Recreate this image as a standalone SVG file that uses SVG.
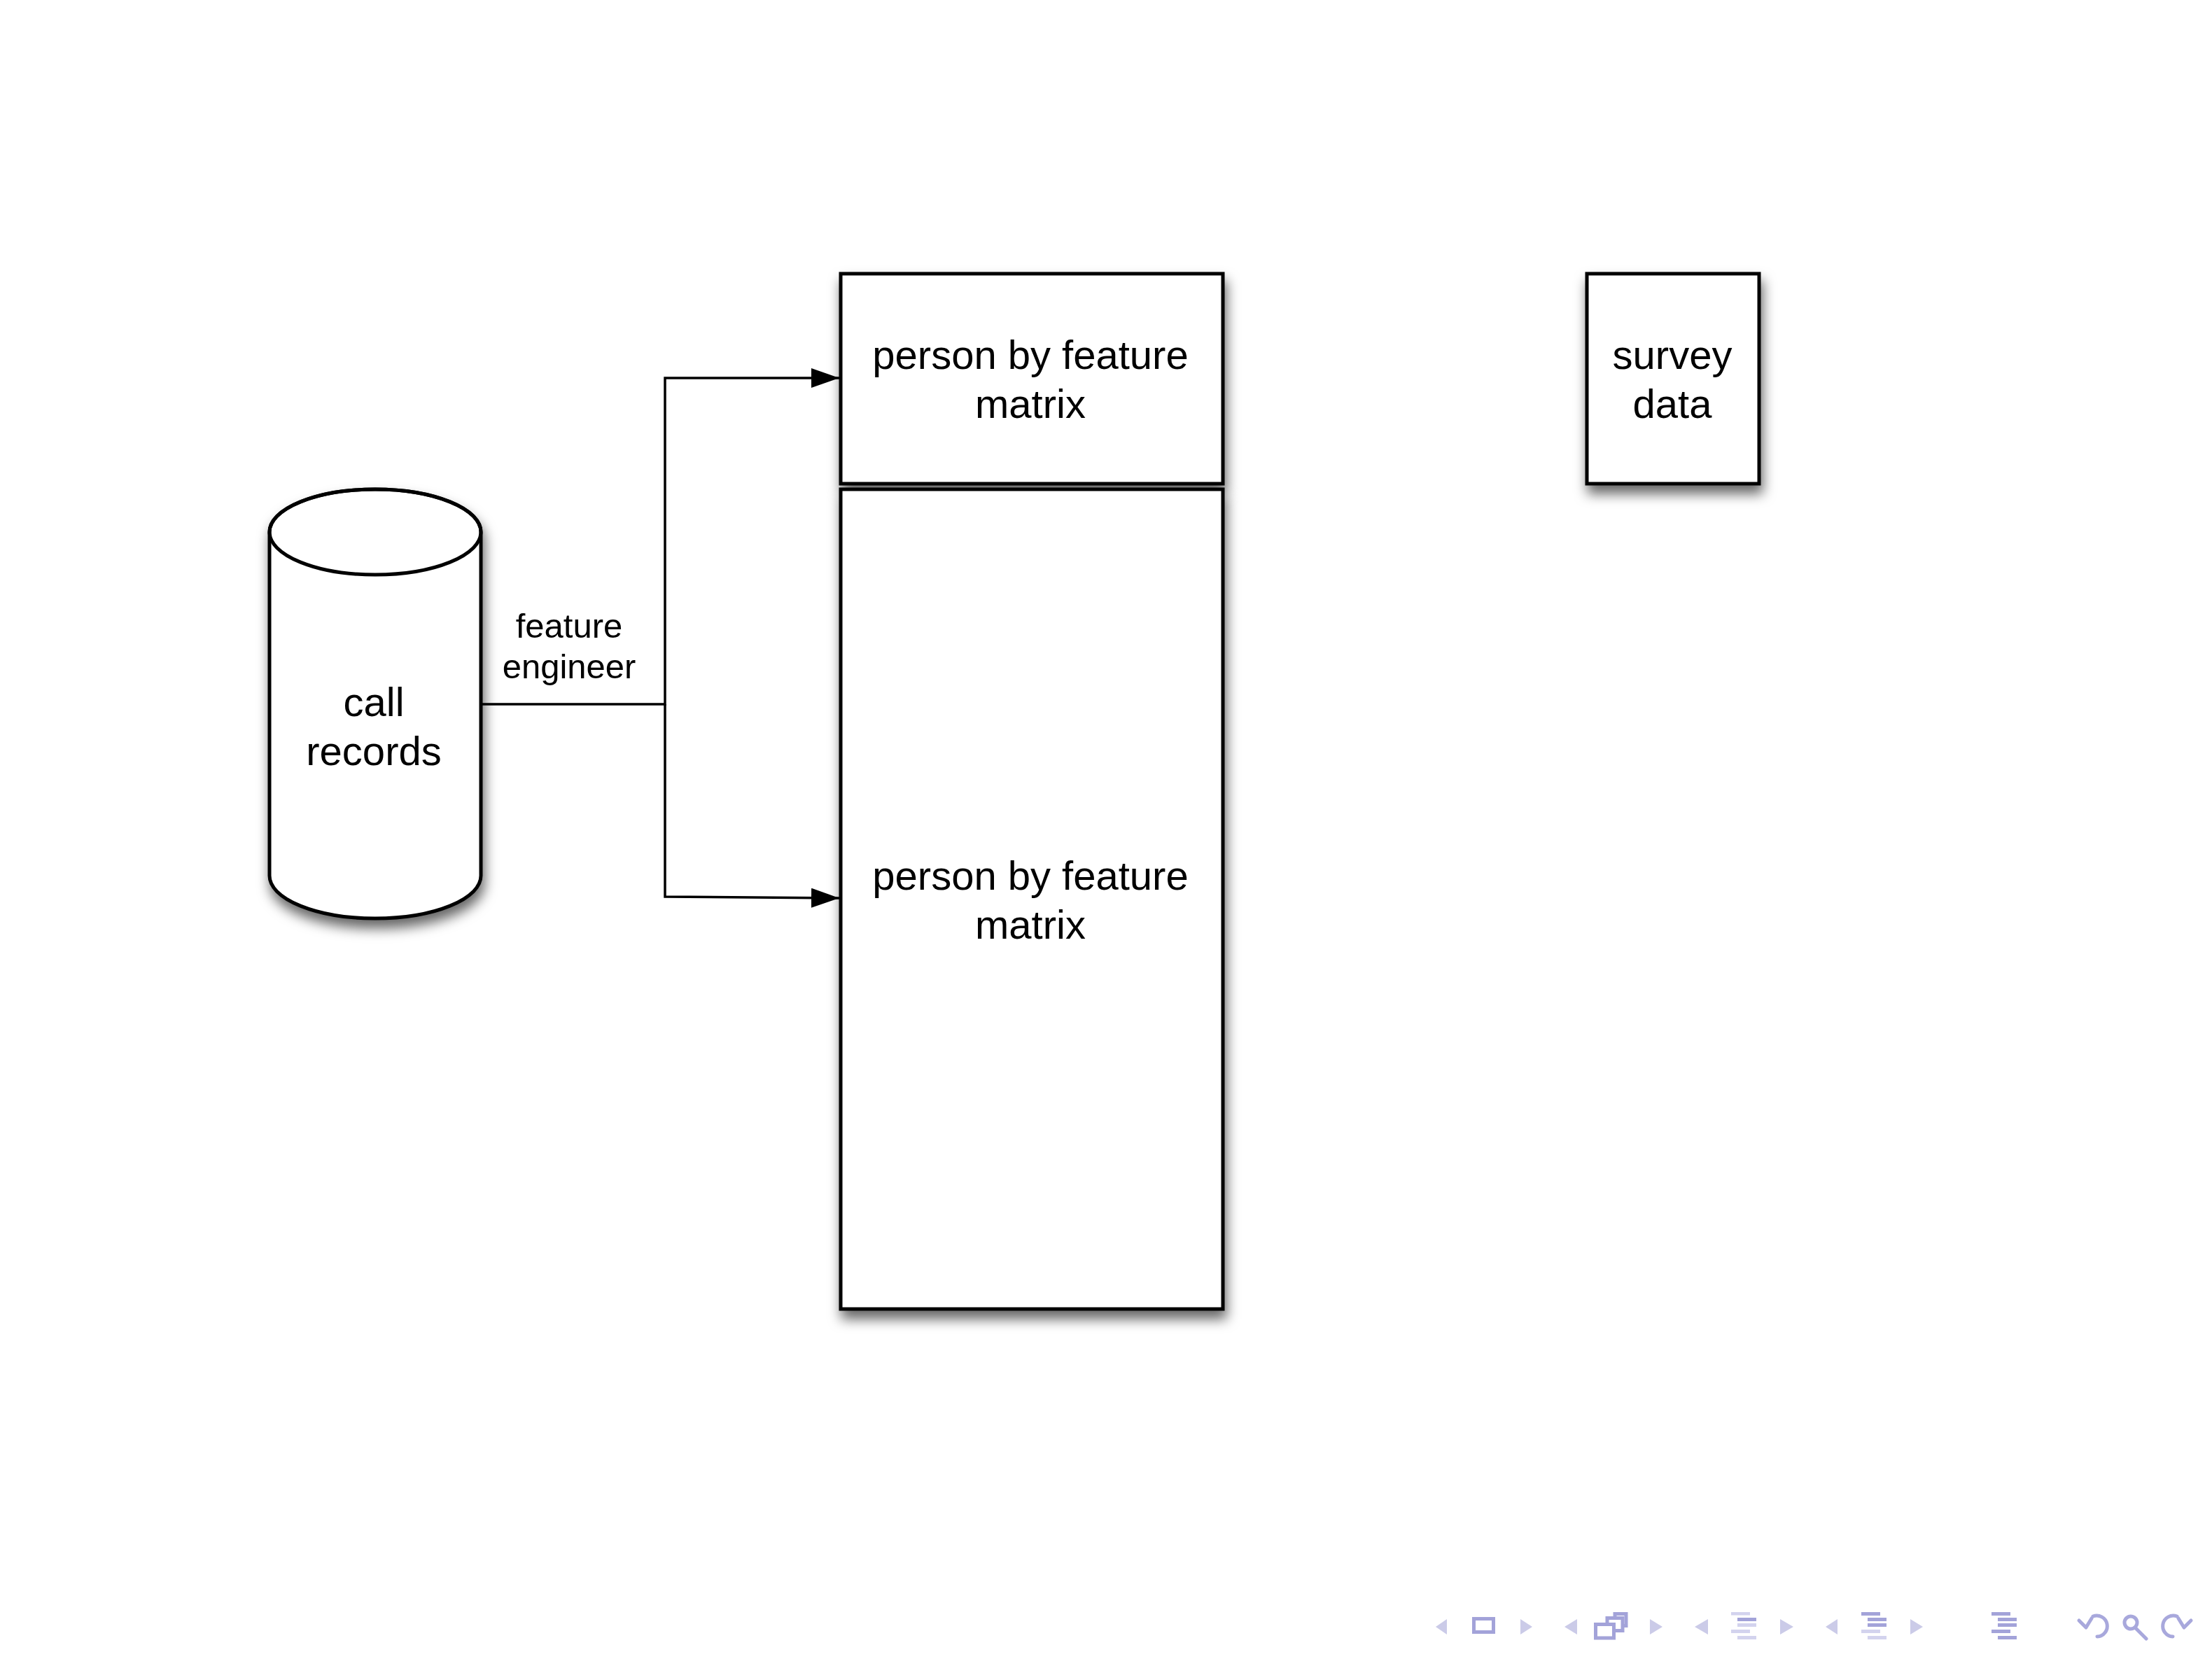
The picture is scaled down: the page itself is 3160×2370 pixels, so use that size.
<svg xmlns="http://www.w3.org/2000/svg" width="3160" height="2370" viewBox="0 0 3160 2370">
<defs>
<style>
.box{fill:#fff;stroke:#000;stroke-width:5}
.lbl{font-family:"Liberation Sans",Arial,Helvetica,sans-serif;font-size:58px;fill:#000;text-anchor:middle}
.elbl{font-family:"Liberation Sans",Arial,Helvetica,sans-serif;font-size:49px;fill:#000;text-anchor:middle}
.conn{fill:none;stroke:#000;stroke-width:3.5}
.tri{fill:#cbcbe8}
.dk{fill:#a3a3d9}
.lt{fill:#d3d3ee}
.ico{fill:none;stroke:#a3a3d9;stroke-width:5}
.ic2{fill:none;stroke:#a8a8dc;stroke-width:5;stroke-linecap:round;stroke-linejoin:round}
</style>
<filter id="sh" x="-20%" y="-20%" width="140%" height="140%">
<feDropShadow dx="3" dy="12" stdDeviation="9" flood-color="#000" flood-opacity="0.6"/>
</filter>
<marker id="ah" markerUnits="userSpaceOnUse" markerWidth="40" markerHeight="28" refX="40" refY="14" orient="auto">
<path d="M0,0 L40,14 L0,28 Z" fill="#000"/>
</marker>
</defs>
<rect width="3160" height="2370" fill="#fff"/>

<g id="call-records">
<path class="box" filter="url(#sh)" d="M385,760 A151,61 0 0 1 687,760 V1251 A151,61 0 0 1 385,1251 Z"/>
<ellipse cx="536" cy="760" rx="151" ry="61" fill="none" stroke="#000" stroke-width="5"/>
<text class="lbl" x="534" y="1023">call</text>
<text class="lbl" x="534" y="1093">records</text>
</g>

<g id="matrix-top">
<rect class="box" filter="url(#sh)" x="1201" y="391" width="546" height="300"/>
<text class="lbl" x="1472" y="527">person by feature</text>
<text class="lbl" x="1472" y="597">matrix</text>
</g>

<g id="matrix-bottom">
<rect class="box" filter="url(#sh)" x="1201" y="699" width="546" height="1171"/>
<text class="lbl" x="1472" y="1271">person by feature</text>
<text class="lbl" x="1472" y="1341">matrix</text>
</g>

<g id="survey-data">
<rect class="box" filter="url(#sh)" x="2267" y="391" width="246" height="300"/>
<text class="lbl" x="2389" y="527">survey</text>
<text class="lbl" x="2389" y="597">data</text>
</g>

<g id="connectors">
<path class="conn" d="M687,1006 H950 V540 H1199" marker-end="url(#ah)"/>
<path class="conn" d="M950,1006 V1281 L1199,1283" marker-end="url(#ah)"/>
<text class="elbl" x="813" y="911">feature</text>
<text class="elbl" x="813" y="969">engineer</text>
</g>

<g id="navigation">
<polygon class="tri" points="2051,2324 2067,2313 2067,2335"/>
<rect class="ico" x="2105.5" y="2312.5" width="28" height="19"/>
<polygon class="tri" points="2189,2324 2172,2313 2172,2335"/>
<polygon class="tri" points="2235,2324 2253,2313 2253,2335"/>
<rect class="ico" x="2307" y="2305.5" width="16" height="17" style="fill:#fff"/>
<rect class="ico" x="2296" y="2311.5" width="22" height="18" style="fill:#fff"/>
<rect class="ico" x="2279.5" y="2320.5" width="26" height="19.5" style="fill:#fff"/>
<polygon class="tri" points="2375,2324 2357,2313 2357,2335"/>
<polygon class="tri" points="2421,2324 2440,2313 2440,2335"/>
<rect class="lt" x="2473" y="2303" width="27" height="4.5"/>
<rect class="dk" x="2482" y="2311" width="27" height="5"/>
<rect class="lt" x="2482" y="2319" width="27" height="5"/>
<rect class="lt" x="2473" y="2328" width="27" height="5"/>
<rect class="lt" x="2482" y="2337" width="27" height="5"/>
<polygon class="tri" points="2562,2324 2543,2313 2543,2335"/>
<polygon class="tri" points="2608,2324 2625,2313 2625,2335"/>
<rect class="dk" x="2659" y="2303" width="27" height="5"/>
<rect class="dk" x="2668" y="2311" width="27" height="5"/>
<rect class="dk" x="2668" y="2319" width="27" height="5"/>
<rect class="lt" x="2659" y="2328" width="27" height="5"/>
<rect class="lt" x="2668" y="2337" width="27" height="5"/>
<polygon class="tri" points="2747,2324 2729,2313 2729,2335"/>
<rect class="dk" x="2845" y="2303" width="27" height="5"/>
<rect class="dk" x="2854" y="2311" width="27" height="5"/>
<rect class="dk" x="2854" y="2319" width="27" height="5"/>
<rect class="dk" x="2845" y="2328" width="27" height="5"/>
<rect class="dk" x="2854" y="2337" width="27" height="5"/>
<path class="ic2" d="M2990,2309 A15,15 0 1 1 2996,2338"/>
<path class="ic2" d="M2970,2315 L2980,2325 L2988,2312"/>
<circle class="ic2" cx="3044" cy="2318" r="9"/>
<path class="ic2" d="M3050,2325 L3066,2341"/>
<path class="ic2" d="M3110,2309 A15,15 0 1 0 3104,2338"/>
<path class="ic2" d="M3130,2315 L3120,2325 L3112,2312"/>
</g>
</svg>
